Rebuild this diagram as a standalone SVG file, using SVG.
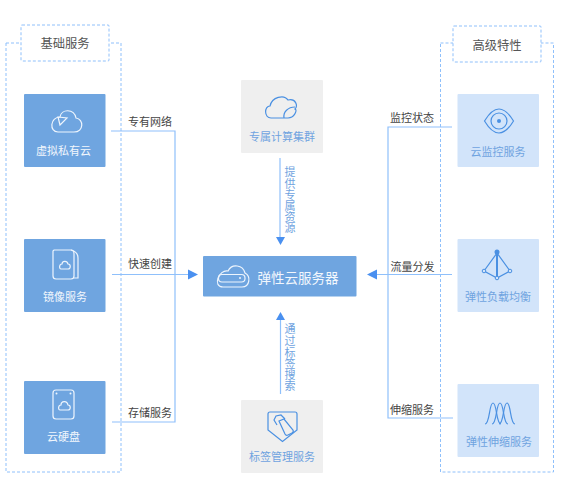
<svg xmlns="http://www.w3.org/2000/svg" width="561" height="500" viewBox="0 0 561 500">
<style>
text{font-family:"Liberation Sans","Noto Sans CJK SC",sans-serif;text-anchor:middle}
.dash{fill:#fff;stroke:#8fc0fb;stroke-width:1;stroke-dasharray:3 2}
.line{fill:none;stroke:#8fc0fb;stroke-width:1.2}
.dk{fill:#6fa5e0}.lt{fill:#d2e4fa}.gr{fill:#efefef}
.wt{fill:#f2f7fd;font-size:11px}.bt{fill:#6fa3e0;font-size:11px}
.lb{fill:#444;font-size:11px}.hd{fill:#555;font-size:12.300px}
.vt{fill:#6fa3e0;font-size:11px}
.iw{fill:none;stroke:#eef5fd;stroke-width:1.2}
.ib{fill:none;stroke:#4a90e2;stroke-width:1.2}
.head{fill:#4a90f0}
</style>
<g id="group-basic">
<rect class="dash" x="6" y="43" width="115" height="429"/>
<rect class="dash" x="21" y="25" width="88" height="36" rx="1"/>
<text class="hd" x="65" y="48">基础服务</text>
</g>
<g id="group-advanced">
<rect class="dash" x="440.500" y="43" width="113" height="429"/>
<rect class="dash" x="453" y="26" width="88" height="36" rx="1"/>
<text class="hd" x="497" y="50">高级特性</text>
</g>
<g id="connectors">
<path class="line" d="M111 131H175V422H112"/>
<path class="line" d="M112 274.500H192"/>
<path class="head" d="M188 269.500L198 274.500L188 279.500Z"/>
<path class="line" d="M452 127H388V418H453"/>
<path class="line" d="M452 274.500H372"/>
<path class="head" d="M377 269.500L367 274.500L377 279.500Z"/>
<path class="line" d="M280 158V240"/>
<path class="head" d="M276 237L280.500 245L285 237Z"/>
<path class="line" d="M280.500 394V318"/>
<path class="head" d="M276 320L280.500 312L285 320Z"/>
<text class="lb" x="150" y="126">专有网络</text>
<text class="lb" x="150" y="268">快速创建</text>
<text class="lb" x="150" y="417">存储服务</text>
<text class="lb" x="412" y="122">监控状态</text>
<text class="lb" x="412.500" y="271">流量分发</text>
<text class="lb" x="412" y="414">伸缩服务</text>
<text class="vt" x="290" y="176">提</text><text class="vt" x="290" y="187.500">供</text><text class="vt" x="290" y="199">专</text><text class="vt" x="290" y="210">属</text><text class="vt" x="290" y="221">资</text><text class="vt" x="290" y="232">源</text>
<text class="vt" x="290" y="333">通</text><text class="vt" x="290" y="345">过</text><text class="vt" x="290" y="356.500">标</text><text class="vt" x="290" y="368">签</text><text class="vt" x="290" y="379">搜</text><text class="vt" x="290" y="390">索</text>
</g>
<g id="node-vpc">
<rect class="dk" x="24" y="94" width="81.500" height="73" rx="1"/>
<path class="iw" d="M58 132H74C84 132 84 119 76 118C74 108 61 109 60 117C50 117 49 132 58 132Z"/>
<path class="iw" d="M58 117L67 118L60 125Z" stroke-width="0.800"/>
<text class="wt" x="63.500" y="155">虚拟私有云</text>
</g>
<g id="node-image">
<rect class="dk" x="24" y="239" width="81.500" height="73" rx="1"/>
<path class="iw" d="M54 250H71Q74 250 74 254V276Q74 279 71 279H56Q53 279 53 276V251Z"/>
<path class="iw" d="M71 250Q78 252 78 258V278L74 278"/>
<path class="iw" d="M61 269H68C71 269 71 264 68 264C67 260 62 261 62 264C59 264 59 269 61 269Z"/>
<text class="wt" x="65" y="301">镜像服务</text>
</g>
<g id="node-disk">
<rect class="dk" x="24" y="381" width="81.500" height="73" rx="1"/>
<rect class="iw" x="53" y="390" width="21" height="29" rx="3"/>
<path class="iw" d="M60 410H68C71 410 71 405 68 405C67 400 61 401 61 405C58 405 58 410 60 410Z"/>
<circle cx="56.500" cy="393.500" r="1" fill="#eef5fd"/><circle cx="70.500" cy="393.500" r="1" fill="#eef5fd"/>
<text class="wt" x="63.500" y="441">云硬盘</text>
</g>
<g id="node-dedicated">
<rect class="gr" x="241" y="80" width="82" height="73" rx="1"/>
<path class="ib" d="M271 118C264 118 264 106 270 106C272 97 284 94 288 100C296 98 298 106 295 109C298 110 294 118 288 118Z"/>
<path class="ib" d="M284 118C283 112 288 107 295 107" stroke-width="0.900"/>
<text class="bt" x="282" y="141">专属计算集群</text>
</g>
<g id="node-ecs">
<rect class="dk" x="203" y="256" width="153.500" height="40.500" rx="1"/>
<path class="iw" d="M223 287H242C250 287 251 276 245 273C243 265 232 263 228 271C219 269 212 287 223 287Z" stroke-width="1.300"/>
<rect class="iw" x="218.500" y="274.500" width="26.500" height="7.500" rx="3.500"/>
<circle cx="240" cy="278" r="1" fill="#eef5fd"/>
<text x="298" y="283" style="fill:#f2f7fd;font-size:13.500px">弹性云服务器</text>
</g>
<g id="node-tag">
<rect class="gr" x="241" y="400" width="82" height="73" rx="1"/>
<path class="ib" d="M270 412H295Q297 412 297 414V430L282.500 441.500L268 430V414Q268 412 270 412Z"/>
<path class="ib" d="M277 425L274 420L276 416L281 415L285 419" stroke-width="0.900"/>
<path class="ib" d="M279 421L284 419L293 430Q294 432 292 433L288 435Q286 436 285 434Z" stroke-width="0.900"/>
<text class="bt" x="282" y="461">标签管理服务</text>
</g>
<g id="node-monitor">
<rect class="lt" x="457.500" y="94" width="81.500" height="73" rx="1"/>
<path class="ib" d="M484.500 121Q499 97 513.500 121Q499 145 484.500 121Z"/>
<circle class="ib" cx="499" cy="121" r="8" stroke-width="0.900"/>
<circle cx="499" cy="121" r="2" fill="#4a90e2"/>
<text class="bt" x="498" y="156">云监控服务</text>
</g>
<g id="node-elb">
<rect class="lt" x="457.500" y="239" width="81.500" height="73" rx="1"/>
<path class="ib" d="M497 253L484 271L497 278L510 271Z"/>
<path d="M497 253V278" stroke="#4a90e2" stroke-width="2"/>
<circle cx="497" cy="252" r="2.500" fill="#4a90e2"/>
<circle cx="484" cy="271" r="1.800" fill="#d2e4fa" stroke="#4a90e2"/><circle cx="510" cy="271" r="1.800" fill="#d2e4fa" stroke="#4a90e2"/><circle cx="497" cy="278" r="1.800" fill="#d2e4fa" stroke="#4a90e2"/>
<text class="bt" x="498" y="301">弹性负载均衡</text>
</g>
<g id="node-as">
<rect class="lt" x="457.500" y="384" width="81.500" height="73" rx="1"/>
<path class="ib" d="M485 424C490 424 489 403 493 403C497 403 496 424 501 424" stroke-width="1"/>
<path class="ib" d="M492 424C497 424 496 403 500 403C504 403 503 424 508 424" stroke-width="1"/>
<path class="ib" d="M499 424C504 424 503 403 507 403C511 403 510 424 515 424" stroke-width="1"/>
<text class="bt" x="499" y="446">弹性伸缩服务</text>
</g>
</svg>
